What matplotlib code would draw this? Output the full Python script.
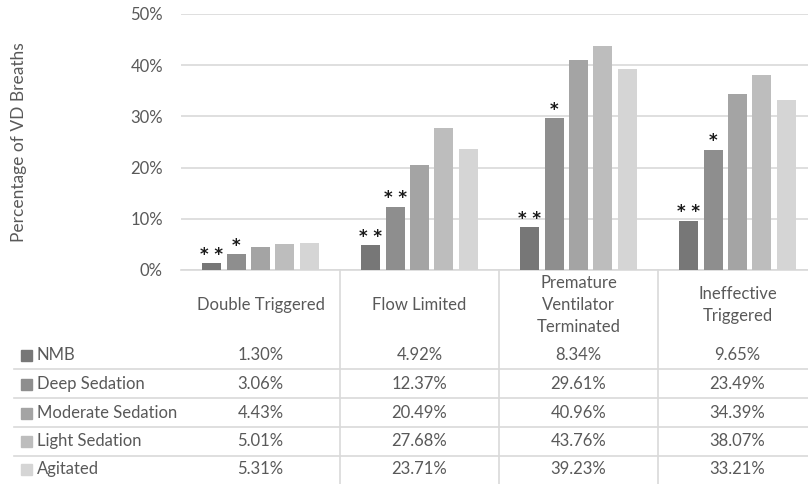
import matplotlib
matplotlib.use("Agg")
import matplotlib.pyplot as plt
import numpy as np

categories = ["Double Triggered", "Flow Limited", "Premature\nVentilator\nTerminated", "Ineffective\nTriggered"]
series = ["NMB", "Deep Sedation", "Moderate Sedation", "Light Sedation", "Agitated"]
values = {
    "NMB": [1.30, 4.92, 8.34, 9.65],
    "Deep Sedation": [3.06, 12.37, 29.61, 23.49],
    "Moderate Sedation": [4.43, 20.49, 40.96, 34.39],
    "Light Sedation": [5.01, 27.68, 43.76, 38.07],
    "Agitated": [5.31, 23.71, 39.23, 33.21],
}
stars = {
    "NMB": ["**", "**", "**", "**"],
    "Deep Sedation": ["*", "**", "*", "*"],
}
colors = ["#777777", "#8e8e8e", "#a4a4a4", "#bdbdbd", "#d5d5d5"]
yticks = [0, 10, 20, 30, 40, 50]

plt.rcParams['font.family'] = ['Lato', 'DejaVu Sans']
txt = "#595959"
line_c = "#d9d9d9"
fs = 12

W, H = 808, 484
fig = plt.figure(figsize=(W / 100, H / 100), dpi=100)
left_px, top_px, bottom_px, colw = 181, 14, 270, 159
axw = 4 * colw
axh = bottom_px - top_px
ax = fig.add_axes([left_px / W, 1 - bottom_px / H, axw / W, axh / H])

x = np.arange(len(categories))
pitch = 0.153
bw = 0.121
for i, s in enumerate(series):
    vals = np.array(values[s]) / 100
    pos = x + (i - 2) * pitch
    ax.bar(pos, vals, width=bw, color=colors[i], zorder=3)
    if s in stars:
        for p, v, st in zip(pos, vals, stars[s]):
            ax.annotate(" ".join(st), (p, v), xytext=(0, -0.5), textcoords="offset points",
                        ha="center", va="bottom", fontsize=12, color="#1a1a1a",
                        family="DejaVu Sans", fontweight="bold")

ax.set_xlim(-0.5, len(categories) - 0.5)
ax.set_ylim(0, 0.5)
ax.set_yticks([t / 100 for t in yticks])
ax.set_yticklabels([f"{t}%" for t in yticks])
ax.tick_params(axis="y", length=0, pad=13, labelsize=fs, labelcolor=txt)
ax.set_xticks([])
ax.grid(axis="y", color=line_c, linewidth=1.2, zorder=0)
for sp in ["top", "right", "left"]:
    ax.spines[sp].set_visible(False)
ax.spines["bottom"].set_color(line_c)
ax.spines["bottom"].set_linewidth(1.2)
ax.set_ylabel("Percentage of VD Breaths", fontsize=12.5, color=txt)
ax.yaxis.set_label_coords((27 - left_px) / axw, 0.5)

def ay(py):
    return (bottom_px - py) / axh

xt = ax.get_xaxis_transform()
# category header
for xi, c in zip(x, categories):
    ax.text(xi, ay(305), c, transform=xt, ha="center", va="center", fontsize=fs,
            color=txt, linespacing=1.45, clip_on=False)

# vertical separators
for b in x[:-1] + 0.5:
    ax.plot([b, b], [0, ay(H)], transform=xt, color=line_c, lw=1.2, clip_on=False)

# rows
row_centers = [355, 384, 413, 441, 469]
row_lines = [369, 398, 427, 456]
x0 = (14 - left_px) / axw
for yl in row_lines:
    ax.plot([x0, 1], [ay(yl), ay(yl)], transform=ax.transAxes, color=line_c, lw=1.2,
            clip_on=False)
for i, s in enumerate(series):
    yc = ay(row_centers[i])
    ax.add_patch(plt.Rectangle(((21 - left_px) / axw, yc - 5.5 / axh), 11 / axw, 11 / axh,
                               transform=ax.transAxes, color=colors[i], clip_on=False))
    ax.text((37 - left_px) / axw, yc, s, transform=ax.transAxes, ha="left", va="center",
            fontsize=fs, color=txt, clip_on=False)
    for xi, v in zip(x, values[s]):
        ax.text(xi, yc, f"{v:.2f}%", transform=xt, ha="center", va="center",
                fontsize=fs, color=txt, clip_on=False)

fig.savefig("out.png", dpi=100)
